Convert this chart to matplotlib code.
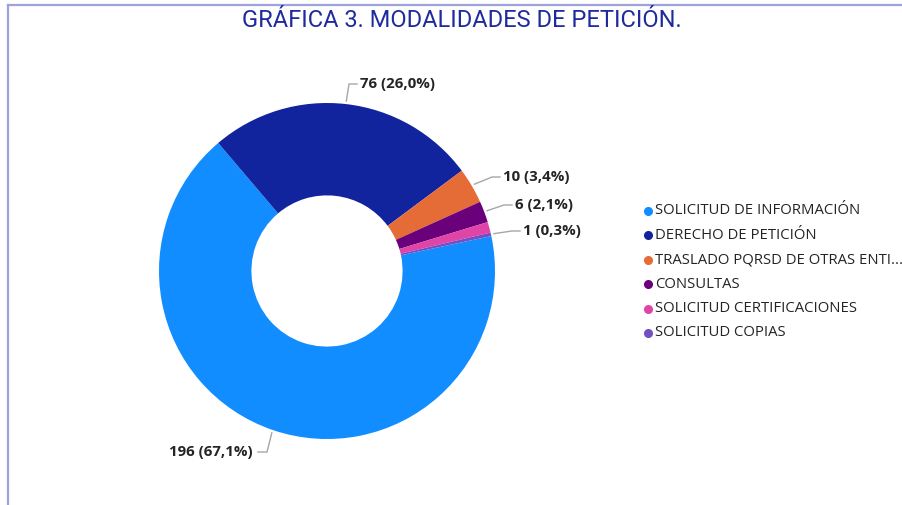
import matplotlib
matplotlib.use("Agg")
import matplotlib.pyplot as plt
import numpy as np
from matplotlib.lines import Line2D

categories = ["SOLICITUD DE INFORMACIÓN", "DERECHO DE PETICIÓN",
              "TRASLADO PQRSD DE OTRAS ENTI...", "CONSULTAS",
              "SOLICITUD CERTIFICACIONES", "SOLICITUD COPIAS"]
values = [196, 76, 10, 6, 3, 1]
colors = ["#118DFF", "#12239E", "#E66C37", "#6B007B", "#E044A7", "#744EC2"]
title = "GRÁFICA 3. MODALIDADES DE PETICIÓN."

W, H = 903, 505
fig = plt.figure(figsize=(W / 100, H / 100), dpi=100)
ax = fig.add_axes([0, 0, 1, 1])
ax.set_xlim(0, W)
ax.set_ylim(H, 0)
ax.set_aspect("equal")
ax.axis("off")

# pie geometry (pixel layout)
cx, cy, R = 327, 271, 168
hole = 0.45
start = 12

pax = fig.add_axes([(cx - R) / W, (H - cy - R) / H, 2 * R / W, 2 * R / H])
wedges, _ = pax.pie(values, colors=colors, startangle=start, counterclock=False,
                    radius=1, wedgeprops=dict(width=1 - hole, linewidth=0))
pax.set_xlim(-1, 1)
pax.set_ylim(-1, 1)
pax.set_aspect("equal")
pax.axis("off")

total = sum(values)
fmt = lambda v: f"{v} ({v / total * 100:.1f}%)".replace(".", ",")

# label layout: index -> (text x, text y, side)
label_pos = {0: (253, 452, "left"), 1: (360, 84, "right"), 2: (503, 177, "right"),
             3: (515, 205, "right"), 5: (523, 231, "right")}
for i, (tx, ty, side) in label_pos.items():
    w = wedges[i]
    mid = np.deg2rad((w.theta1 + w.theta2) / 2)
    sx = cx + (R + 3) * np.cos(mid)
    sy = cy - (R + 3) * np.sin(mid)
    if side == "right":
        ex, end = tx - 11, tx - 3
        ha = "left"
    else:
        ex, end = tx + 14, tx + 5
        ha = "right"
    ax.plot([sx, ex, end], [sy, ty, ty], color="#A6A6A6", lw=1)
    ax.text(tx, ty, fmt(values[i]), ha=ha, va="center", fontsize=10.8,
            fontweight="bold", color="#252423", family="Open Sans")

# legend
lx, ly0, dy = 648, 211, 24.4
for i, (c, lab) in enumerate(zip(colors, categories)):
    y = ly0 + i * dy
    ax.plot([lx], [y], "o", color=c, ms=5.5)
    ax.text(lx + 7, y, lab, ha="left", va="center", fontsize=10.7,
            color="#252423", family="Open Sans")

# title
ax.text(462, 20, title, ha="center", va="center", fontsize=17,
        color="#1F2B9C", family="Roboto")

# border lines
bc = "#9EA3DF"
ax.add_line(Line2D([8, W], [5, 5], color=bc, lw=1.6))
ax.add_line(Line2D([8, 8], [5, H], color=bc, lw=1.6))

fig.savefig("out.png", dpi=100)
